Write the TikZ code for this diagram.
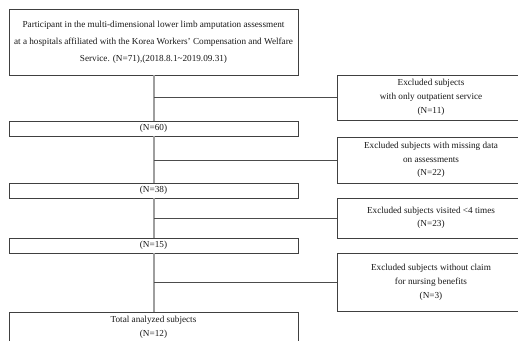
\documentclass[tikz,border=0pt]{standalone}
\usepackage{fontspec}
\setmainfont{Liberation Serif}
\begin{document}
\begin{tikzpicture}[x=1pt,y=-1pt,
  boxstyle/.style={draw=black!75, line width=0.9pt, fill=white, text=black!90,
    align=center, inner sep=0pt, minimum width=#1},
  mainbox/.style={boxstyle=289pt},
  exbox/.style={boxstyle=188pt, font=\fontsize{9.2}{14}\selectfont},
  trunk/.style={draw=black!38, line width=1.6pt},
  branch/.style={draw=black!70, line width=0.9pt}]
\useasboundingbox (0,0) rectangle (518,340);
\begin{scope}
\clip (0,0) rectangle (518,340);
\node[mainbox, minimum height=66pt, font=\fontsize{9.2}{17}\selectfont] (top) at (153.5,42)
  {Participant in the multi-dimensional lower limb amputation assessment\\
   at a hospitals affiliated with the Korea Workers\symbol{39} Compensation and Welfare\\
   Service. (N=71),(2018.8.1\string~2019.09.31)};
\node[mainbox, minimum height=15pt, font=\fontsize{9.2}{14}\selectfont] (n60) at (153.5,128.5) {(N=60)};
\node[mainbox, minimum height=15pt, font=\fontsize{9.2}{14}\selectfont] (n38) at (153.5,190.5) {(N=38)};
\node[mainbox, minimum height=15pt, font=\fontsize{9.2}{14}\selectfont] (n15) at (153.5,245.5) {(N=15)};
\node[mainbox, minimum height=31pt, font=\fontsize{9.2}{13.5}\selectfont] (total) at (153.5,327.5)
  {Total analyzed subjects\\(N=12)};
\node[exbox, minimum height=45pt] (ex1) at (431,97.5)
  {Excluded subjects\\with only outpatient service\\(N=11)};
\node[exbox, minimum height=46pt, font=\fontsize{9.2}{13.5}\selectfont] (ex2) at (431,160)
  {Excluded subjects with missing data\\on assessments\\(N=22)};
\node[exbox, minimum height=40pt, font=\fontsize{9.2}{12.5}\selectfont] (ex3) at (431,218)
  {Excluded subjects visited <4 times\\(N=23)};
\node[exbox, minimum height=58pt] (ex4) at (431,282)
  {Excluded subjects without claim\\for nursing benefits\\(N=3)};
\draw[trunk] (top.south -| 154,0) -- (n60.north -| 154,0);
\draw[trunk] (n60.south -| 154,0) -- (n38.north -| 154,0);
\draw[trunk] (n38.south -| 154,0) -- (n15.north -| 154,0);
\draw[trunk] (n15.south -| 154,0) -- (total.north -| 154,0);
\draw[branch] (ex1.west) -- (ex1.west -| 154,0);
\draw[branch] (ex2.west) -- (ex2.west -| 154,0);
\draw[branch] (ex3.west) -- (ex3.west -| 154,0);
\draw[branch] (ex4.west) -- (ex4.west -| 154,0);
\end{scope}
\end{tikzpicture}
\end{document}
